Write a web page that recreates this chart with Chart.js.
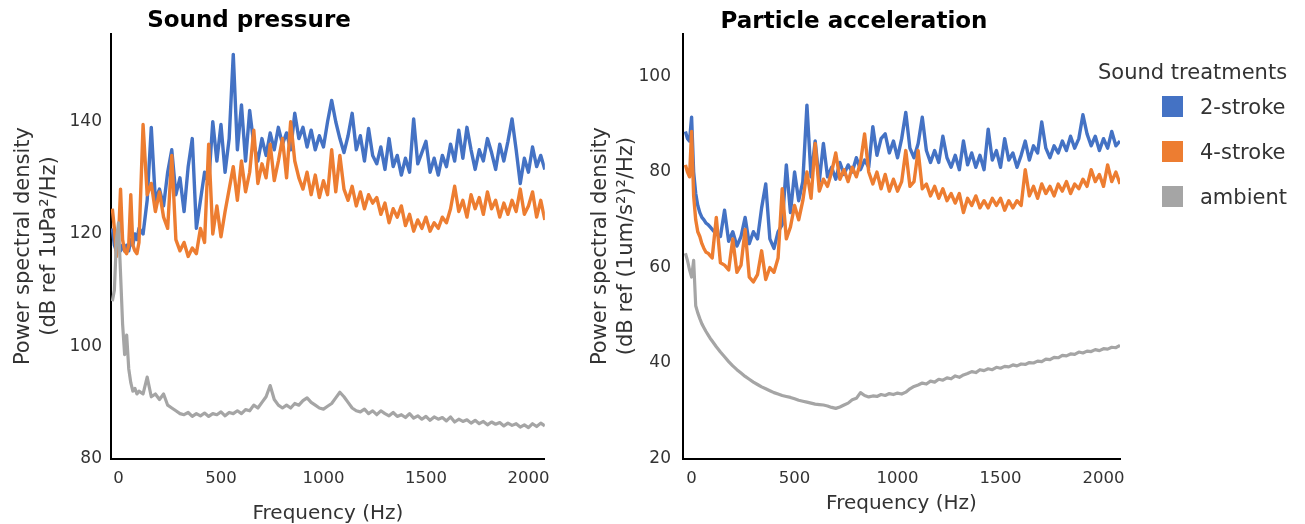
<!DOCTYPE html>
<html><head><meta charset="utf-8">
<script src="https://cdn.jsdelivr.net/npm/chart.js@4"></script>
<style>
html,body{margin:0;padding:0;background:#fff;}
body{width:1305px;height:524px;position:relative;overflow:hidden;font-family:"DejaVu Sans",sans-serif;}
.wrap{position:absolute;top:0;height:524px;}
#w1{left:0;width:560px;}
#w2{left:560px;width:745px;}
.ttl{position:absolute;font-weight:bold;font-size:23px;color:#000;white-space:nowrap;transform:translate(-50%,-50%);line-height:28px;}
#legend{position:absolute;left:1098px;top:59px;width:207px;height:180px;color:#333;font-size:21px;}
#legend .lt{position:absolute;left:0;top:0;line-height:26px;white-space:nowrap;}
#legend .sw{position:absolute;left:64px;width:21px;height:21px;}
#legend .tx{position:absolute;left:102px;line-height:26px;white-space:nowrap;}
</style></head>
<body>
<div class="wrap" id="w1"><canvas id="c1" width="560" height="524"></canvas></div>
<div class="wrap" id="w2"><canvas id="c2" width="745" height="524"></canvas></div>
<div class="ttl" style="left:249px;top:18.5px">Sound pressure</div>
<div class="ttl" style="left:854px;top:20px">Particle acceleration</div>
<div id="legend"></div>
<script>
const freq = [-30,-20,-10,0,10,20,30,40,50,60,
70,80,90,100,120,140,160,180,200,220,
240,260,280,300,320,340,360,380,400,420,
440,460,480,500,520,540,560,580,600,620,
640,660,680,700,720,740,760,780,800,820,
840,860,880,900,920,940,960,980,1000,1020,
1040,1060,1080,1100,1120,1140,1160,1180,1200,1220,
1240,1260,1280,1300,1320,1340,1360,1380,1400,1420,
1440,1460,1480,1500,1520,1540,1560,1580,1600,1620,
1640,1660,1680,1700,1720,1740,1760,1780,1800,1820,
1840,1860,1880,1900,1920,1940,1960,1980,2000,2020,
2040,2060,2080];

// Sound pressure (dB ref 1uPa^2/Hz)
const spTwoStroke = [121,118,117,118,117,118,117,118,117,119,
118,120,119,121,120,126,139,126,128,125,
131,135,127,130,124,132,137,121,126,131,
129,140,133,139.5,131,137,152,135,143,133,
142,136,133,137,134,138,135,139,136,138,
135,141.5,137,139,135.5,138.5,135,137.5,135.5,140,
143.8,140,137,134.5,137.5,141.5,135,137.5,133,138.8,
134,132.5,135.5,131.5,137,132,134,130.5,133.5,131,
140.5,132.5,134.5,136.5,131,133.5,130.5,134,132,136,
133,138.5,133.5,139,135,131.5,135,133,137,134.5,
131.5,136,133,136.5,140.5,135,129,133.5,131,135.5,
132,134,131.5];
const spFourStroke = [124.5,121,116,119,128,119,117,116.5,118,127,
118,117,116.5,118.5,139.5,127,129,124,127.5,123,
121,134,119,117,118.5,116,117.5,116.5,121,118.5,
136,120,125,119.5,124,128,132,126,133,127.5,
131,138.5,129,132.5,130,136,129.5,133,137,130,
140,133,130,128,131,127,130.5,126.5,129.5,127,
135,127.5,134,128,126,128.5,125,127.5,124.5,127,
125.5,126.5,123.5,125.5,122,124.5,123,125,121.5,123.5,
120.5,122.5,121,123,120.5,122,121,123,122,124.5,
128.5,124,126,123,127,124.5,126.5,123.5,127.5,124.5,
126,123,125.5,123.5,126,124,128,123.5,125,127.5,
123,126,122.5];
const spAmbient = [108,110,119,122,113,104,98.5,102,96,93.5,
92,92.5,91.5,92,91.5,94.5,91,91.5,90.5,91.5,
89.5,89,88.5,88,87.8,88.2,87.5,88,87.6,88.1,
87.5,88,87.8,88.3,87.6,88.2,88,88.5,88,88.7,
88.5,89.5,89,90,91,93,90.5,89.5,89,89.5,
89,89.8,89.5,90.3,90.8,90,89.5,89,88.8,89.3,
89.8,90.8,91.8,91,90,89,88.5,88.3,88.8,88,
88.5,87.8,88.5,88,87.6,88.2,87.5,87.8,87.3,88,
87.2,87.6,87,87.5,86.8,87.4,87,87.3,86.7,87.4,
86.5,87,86.6,86.9,86.3,86.8,86.2,86.6,86,86.5,
86.1,86.4,85.8,86.3,85.9,86.2,85.6,86,85.5,86.2,
85.7,86.3,85.8];

// Particle acceleration (dB ref (1um/s^2)^2/Hz)
const paTwoStroke = [88.5,87,86.5,91.5,80,75.5,73,71.5,70.5,70,
69.3,69,68.5,68,67,66.5,72,65.5,67.5,64.5,
66.5,70.5,65,67.5,66,72.5,77.5,66,64,67.5,
69,81.5,71.5,80,74,78,94,79,86.5,78,
86,79,81,78.5,82,79.5,81.5,80,83,80.5,
82.5,81,89.5,83.5,87,88,84,86.5,83,87,
92.5,85,83,86,91.5,84.5,82,84.5,82,87.5,
83,81,83.5,80.5,86.5,81.5,84,81,83.5,80.5,
89,82.5,84.5,81,87,82.5,84,81,83.5,86.5,
82.5,85.5,84,90.5,85,83,85.5,84,86.5,84.5,
87.5,85,87,92,88,85.5,87.5,84.5,87,85,
88.5,85.5,86.5];
const paFourStroke = [81.5,80,79,88.5,75,70,67.5,66.5,65,64,
63.2,63,62.5,62,70.5,61,60.5,59.5,66,59,
60.5,68,58,57,58.5,63.5,57.5,60,59,62,
76.5,66,68.5,73,70,74,80,74.5,86,76,
78.5,77,80,84,78.5,80.5,78,81,79,82,
88,80,77.5,80,76.5,79.5,76,78.5,76,78,
84.5,77,78,84.5,76.5,77.5,75,77,74.5,76.5,
74,75.5,73.5,75.5,71.5,74.5,73,75,72.5,74,
72.5,74.5,73,74.5,72,74,72.5,74,73,80.5,
75,77,74.5,77.5,75.5,77,75,77.5,76,78,
75.5,77.5,76.5,78.5,77,80.5,78,79.5,77,81.5,
78,80,77.5];
const paAmbient = [63,61.5,59.5,58,61.5,52,50.5,49.3,48.2,47.4,
46.6,45.9,45.2,44.6,43.4,42.3,41.3,40.3,39.4,38.6,
37.9,37.2,36.6,36,35.5,35,34.6,34.2,33.8,33.5,
33.2,33,32.8,32.5,32.2,32,31.8,31.6,31.4,31.3,
31.2,31,30.7,30.5,30.8,31.2,31.6,32.3,32.6,33.8,
33.2,32.9,33.1,33,33.4,33.2,33.6,33.4,33.7,33.5,
33.9,34.6,35.1,35.4,35.8,35.6,36.2,36,36.6,36.4,
36.9,36.7,37.3,37,37.5,37.8,38.2,38,38.6,38.4,
38.8,38.6,39.1,38.9,39.3,39.2,39.6,39.4,39.8,39.7,
40.1,40,40.4,40.3,40.8,40.7,41.2,41.1,41.6,41.5,
41.9,41.8,42.3,42.1,42.5,42.4,42.8,42.6,43,42.9,
43.3,43.2,43.7];

const seriesNames = ['2-stroke','4-stroke','ambient'];
const seriesColors = ['#4472C4','#ED7D31','#A5A5A5'];
const freqTicks = [0,500,1000,1500,2000];
const spTicks = [80,100,120,140];
const paTicks = [20,40,60,80,100];
const xTitle = 'Frequency (Hz)';
const spYTitle = ['Power spectral density','(dB ref 1uPa\u00B2/Hz)'];
const paYTitle = ['Power spectral density','(dB ref (1um/s\u00B2)\u00B2/Hz)'];
const legendTitle = 'Sound treatments';

Chart.defaults.font.family = '"DejaVu Sans", sans-serif';

function pts(vals){ return freq.map((f,i)=>({x:f,y:vals[i]})); }

function datasets(list){
  return list.map((vals,i)=>({
    label: seriesNames[i],
    data: pts(vals),
    borderColor: seriesColors[i],
    backgroundColor: seriesColors[i],
    borderWidth: i === 2 ? 3.2 : 3.4,
    borderJoinStyle: 'round',
    pointRadius: 0,
    tension: 0,
    order: 3 - i
  }));
}

function build(canvas, list, cfg){
  return new Chart(canvas, {
    type: 'line',
    data: { datasets: datasets(list) },
    options: {
      responsive: false,
      animation: false,
      layout: { padding: { top: 33.6, left: 0, right: cfg.padRight, bottom: 0 } },
      plugins: { legend: { display: false }, tooltip: { enabled: false }, title: { display: false } },
      scales: {
        x: {
          type: 'linear', min: cfg.xmin, max: 2080,
          afterBuildTicks: s => { s.ticks = freqTicks.map(v => ({ value: v })); },
          afterFit: s => { s.height = 65.5; },
          grid: { display: false, drawTicks: false },
          border: { display: true, color: '#000', width: 2 },
          ticks: { font: { size: 16.5 }, color: '#333', padding: 10, maxRotation: 0, autoSkip: false, callback: v => String(v) },
          title: { display: true, text: xTitle, color: '#333', font: { size: 20, lineHeight: 1 }, padding: { top: 0, bottom: cfg.xTitlePad } }
        },
        y: {
          type: 'linear', min: cfg.ymin, max: cfg.ymax,
          afterBuildTicks: s => { s.ticks = cfg.yticks.map(v => ({ value: v })); },
          afterFit: s => { s.width = cfg.yWidth; },
          grid: { display: false, drawTicks: false },
          border: { display: true, color: '#000', width: 2 },
          ticks: { font: { size: 17 }, color: '#333', padding: cfg.yTickPad, callback: v => String(v) },
          title: { display: true, text: cfg.ytitle, color: '#333', font: { size: 21, lineHeight: 1.25 }, padding: { top: cfg.yTitlePad, bottom: 0 } }
        }
      }
    }
  });
}

const c1 = build(document.getElementById('c1'), [spTwoStroke, spFourStroke, spAmbient], {
  xmin: -36.5, ymin: 80, ymax: 155.7, yticks: spTicks, ytitle: spYTitle,
  yWidth: 111, yTickPad: 9, yTitlePad: 10, xTitlePad: 0, padRight: 14.7
});
const c2 = build(document.getElementById('c2'), [paTwoStroke, paFourStroke, paAmbient], {
  xmin: -41.7, ymin: 20, ymax: 109, yticks: paTicks, ytitle: paYTitle,
  yWidth: 123, yTickPad: 12, yTitlePad: 27, xTitlePad: 10, padRight: 185
});

// HTML legend generated from the chart's own legend items
const lg = document.getElementById('legend');
const t = document.createElement('div'); t.className = 'lt'; t.textContent = legendTitle; lg.appendChild(t);
const items = Chart.defaults.plugins.legend.labels.generateLabels(c2).sort((a,b)=>a.datasetIndex-b.datasetIndex);
items.forEach((it, i) => {
  const sw = document.createElement('div'); sw.className = 'sw';
  sw.style.top = (37 + i * 45) + 'px'; sw.style.background = it.fillStyle;
  const tx = document.createElement('div'); tx.className = 'tx';
  tx.style.top = (34.5 + i * 45) + 'px'; tx.textContent = it.text;
  lg.appendChild(sw); lg.appendChild(tx);
});
</script>
</body></html>
